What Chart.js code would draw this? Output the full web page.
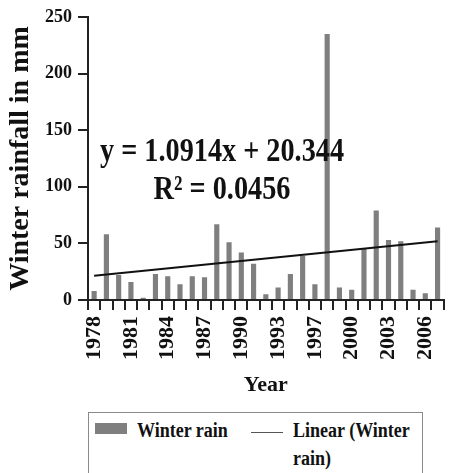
<!DOCTYPE html>
<html>
<head>
<meta charset="utf-8">
<script src="https://cdn.jsdelivr.net/npm/chart.js@4"></script>
<style>
	body { margin: 0; width: 463px; height: 473px; overflow: hidden; background: #fff; font-family: "Liberation Serif", serif; }
	#wrap { position: absolute; left: 0; top: 0; width: 470px; height: 400px; }
	#legend-container {
		position: absolute; left: 88px; top: 412px; width: 335px; height: 70px;
		border: 1px solid #8a8a8a; box-sizing: border-box;
		font-weight: bold; font-size: 20px; color: #111;
	}
	.item { position: absolute; top: 3px; line-height: 28px; transform: scaleX(0.9); transform-origin: left top; }
	.swatch { position: absolute; }
</style>
</head>
<body>
<div id="wrap"><canvas id="barChart"></canvas></div>
<div id="legend-container"></div>
<script>
let years = ["1978", "1979", "1980", "1981", "1982", "1983", "1984", "1985", "1986", "1987",
	"1988", "1989", "1990", "1991", "1992", "1993", "1994", "1995", "1997", "1998",
	"1999", "2000", "2001", "2002", "2003", "2004", "2005", "2006", "2007"];

let winterRain = [8, 58, 22, 16, 2, 23, 21, 14, 21, 20,
	67, 51, 42, 32, 5, 11, 23, 39, 14, 235,
	11, 9, 46, 79, 53, 52, 9, 6, 64];

// trendline end values (Excel linear fit), gaps in between are spanned
let trendLine = [21.4, null, null, null, null, null, null, null, null, null,
	null, null, null, null, null, null, null, null, null, null,
	null, null, null, null, null, null, null, null, 52.0];

let yTicks = [0, 50, 100, 150, 200, 250];
let equationText = "y = 1.0914x + 20.344";
let rSquaredText = "R² = 0.0456";

const serif = "'Liberation Serif', 'Times New Roman', serif";

let equationPlugin = {
	id: "equation",
	afterDatasetsDraw(chart) {
		const c = chart.ctx;
		const area = chart.chartArea;
		c.save();
		c.fillStyle = "#111";
		c.textAlign = "center";
		c.textBaseline = "alphabetic";
		c.font = "bold 34px " + serif;
		c.fillText(equationText, area.left + 134, area.top + 144, 244);
		c.fillText(rSquaredText, area.left + 134, area.top + 182, 137);
		c.restore();
	},
};

let barChart = document.getElementById("barChart");

let ctx = new Chart(barChart, {
	type: "bar",
	data: {
		labels: years,
		datasets: [
			{
				label: "Winter rain",
				data: winterRain,
				backgroundColor: "#7f7f7f",
				categoryPercentage: 1,
				barPercentage: 0.42,
				order: 2,
			},
			{
				type: "line",
				label: "Linear (Winter rain)",
				data: trendLine,
				spanGaps: true,
				borderColor: "#111",
				borderWidth: 2,
				pointRadius: 0,
				fill: false,
				order: 1,
			},
		],
	},
	options: {
		responsive: true,
		maintainAspectRatio: false,
		animation: false,
		layout: { padding: { top: 17, right: 2, left: 0, bottom: 0 } },
		plugins: {
			legend: { display: false },
			tooltip: { enabled: false },
		},
		scales: {
			x: {
				grid: { offset: true, drawOnChartArea: false, tickLength: 10, color: "#222", lineWidth: 2 },
				border: { color: "#222", width: 2 },
				ticks: {
					autoSkip: false,
					minRotation: 90,
					maxRotation: 90,
					padding: 6,
					color: "#111",
					font: { family: serif, size: 22, weight: "bold" },
					callback: function (value, index) {
						return index % 3 === 0 ? years[index] : "";
					},
				},
				title: {
					display: true,
					text: "Year",
					color: "#111",
					font: { family: serif, size: 22, weight: "bold" },
					padding: { top: 0, bottom: 1 },
				},
				afterFit: (scale) => { scale.height = 100; },
			},
			y: {
				min: 0,
				max: 250,
				grid: { drawOnChartArea: false, tickLength: 10, color: "#222", lineWidth: 2 },
				border: { color: "#222", width: 2 },
				afterBuildTicks: (scale) => { scale.ticks = yTicks.map((v) => ({ value: v })); },
				ticks: {
					padding: 6,
					color: "#111",
					font: { family: serif, size: 18, weight: "bold" },
				},
				title: {
					display: true,
					text: "Winter rainfall in mm",
					color: "#111",
					font: { family: serif, size: 28, weight: "bold" },
					padding: { top: 4, bottom: 0 },
				},
				afterFit: (scale) => { scale.width = 88; },
			},
		},
	},
	plugins: [equationPlugin],
});

// html legend built from the chart's datasets
const legendBox = document.getElementById("legend-container");
ctx.data.datasets.forEach((ds, i) => {
	const sw = document.createElement("div");
	sw.className = "swatch";
	const txt = document.createElement("div");
	txt.className = "item";
	txt.textContent = ds.label;
	if (i === 0) {
		sw.style.left = "6px"; sw.style.top = "10px"; sw.style.width = "32px"; sw.style.height = "11px";
		sw.style.background = ds.backgroundColor;
		txt.style.left = "48px";
	} else {
		sw.style.left = "162px"; sw.style.top = "19px"; sw.style.width = "32px"; sw.style.height = "1px";
		sw.style.background = "#555";
		txt.style.left = "204px"; txt.style.width = "135px";
	}
	legendBox.appendChild(sw);
	legendBox.appendChild(txt);
});
</script>
</body>
</html>
